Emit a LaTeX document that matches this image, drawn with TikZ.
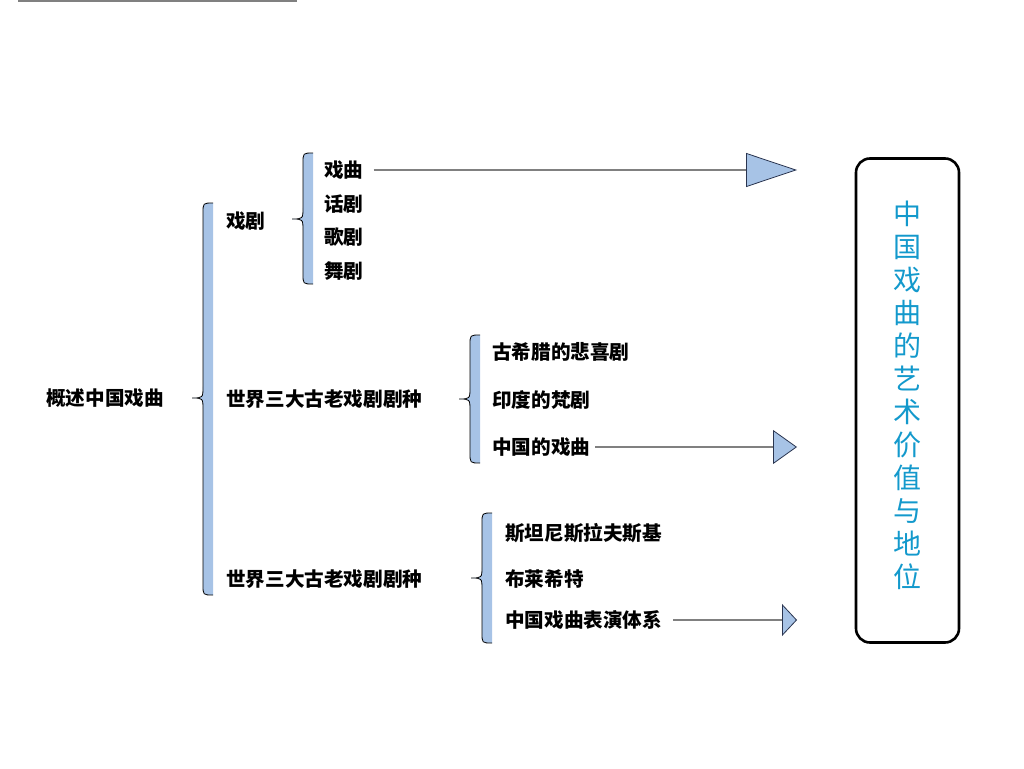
\documentclass[tikz,border=0pt]{standalone}
\usepackage{fontspec}
\newfontfamily\cjk{Noto Sans CJK SC}
\usetikzlibrary{positioning,arrows.meta}
\definecolor{braceblue}{HTML}{A7C3E6}
\definecolor{titleblue}{HTML}{1399CC}
\definecolor{tipline}{HTML}{2A3550}
\definecolor{linegray}{HTML}{808080}
\begin{document}
\begin{tikzpicture}[x=1pt,y=-1pt,
item/.style={
inner sep=0pt,
anchor=west,
font=\cjk\bfseries\fontsize{19.6}{20}\selectfont
},
titlebox/.style={
draw,
line width=2.6pt,
rounded corners=14pt,
minimum width=103pt,
minimum height=484pt
},
titletext/.style={
inner sep=0pt,
align=center,
text=titleblue,
font=\cjk\fontsize{28}{33}\selectfont
},
link/.style={
draw=linegray,
line width=1.3pt
},
node distance=33.7pt
]
\useasboundingbox (0,0) rectangle (1024,768);
\draw[linegray, line width=1.6pt] (18,1) -- (297,1);

% braces
\foreach \xr/\ya/\yb/\ym in {213/203/595/398, 313/153/284/219, 480/335/463/399, 492/513/643/578}{
\fill[braceblue] (\xr,\ya) .. controls (\xr-10,\ya) .. (\xr-10,\ya+10) -- (\xr-10,\ym-12) .. controls (\xr-10,\ym) .. (\xr-21,\ym) .. controls (\xr-10,\ym) .. (\xr-10,\ym+12) -- (\xr-10,\yb-10) .. controls (\xr-10,\yb) .. (\xr,\yb) -- cycle;
\draw[line width=0.8pt] (\xr,\ya) .. controls (\xr-10,\ya) .. (\xr-10,\ya+10) -- (\xr-10,\ym-12) .. controls (\xr-10,\ym) .. (\xr-21,\ym) .. controls (\xr-10,\ym) .. (\xr-10,\ym+12) -- (\xr-10,\yb-10) .. controls (\xr-10,\yb) .. (\xr,\yb);
}

\node[item] (root) at (46,398) {概述中国戏曲};
\node[item] (xj) at (226,221) {戏剧};
\node[item] (sj1) at (226,399) {世界三大古老戏剧剧种};
\node[item] (sj2) at (226,579) {世界三大古老戏剧剧种};

\node[item] (xq) at (324,170) {戏曲};
\node[item, below=of xq.west, anchor=west] (hj) {话剧};
\node[item, below=of hj.west, anchor=west] (gj) {歌剧};
\node[item, below=of gj.west, anchor=west] (wj) {舞剧};

\node[item] (xl) at (492,352) {古希腊的悲喜剧};
\node[item, below=47.5pt of xl.west, anchor=west] (yd) {印度的梵剧};
\node[item, below=47.5pt of yd.west, anchor=west] (zg) {中国的戏曲};

\node[item] (st) at (505,533) {斯坦尼斯拉夫斯基};
\node[item, below=46pt of st.west, anchor=west] (bl) {布莱希特};
\node[item, below=41pt of bl.west, anchor=west] (by) {中国戏曲表演体系};

\node[titlebox] (title) at (907.5,400.5) {};
\node[titletext] (tt) at ([yshift=5.5pt]title.center) {中\\国\\戏\\曲\\的\\艺\\术\\价\\值\\与\\地\\位};

% arrows
\coordinate (t1) at (797,170);
\coordinate (t2) at (797,447);
\coordinate (t3) at (797,620);
\draw[link, -{Triangle[length=51pt,width=34pt,fill=braceblue,color=tipline,line width=0.8pt]}] ([xshift=10pt]xq.east) -- (t1);
\draw[link, -{Triangle[length=24pt,width=34pt,fill=braceblue,color=tipline,line width=0.8pt]}] ([xshift=5pt]zg.east) -- (t2);
\draw[link, -{Triangle[length=15pt,width=32pt,fill=braceblue,color=tipline,line width=0.8pt]}] ([xshift=11pt]by.east) -- (t3);
\end{tikzpicture}
\end{document}
